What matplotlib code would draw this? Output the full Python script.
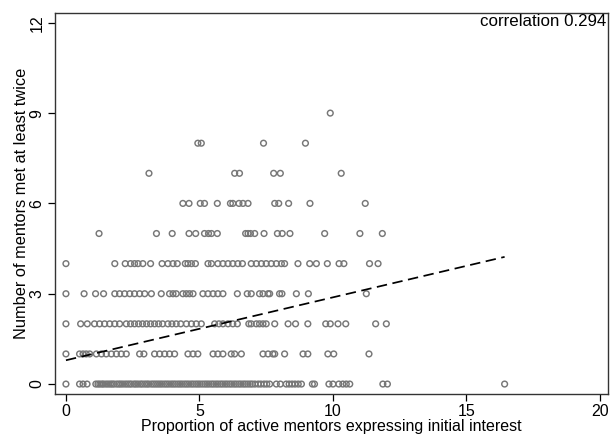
import matplotlib
matplotlib.use("Agg")
import matplotlib.pyplot as plt
import numpy as np

plt.rcParams['font.family'] = ['Liberation Sans', 'DejaVu Sans']

# x values (proportion of active mentors expressing initial interest) by y row
row0 = [0.0, 0.51, 0.64, 0.79, 1.12, 1.2, 1.27, 1.35, 1.41, 1.5, 1.58, 1.66, 1.73, 1.8, 1.9,
        1.98, 2.05, 2.13, 2.22, 2.3, 2.38, 2.45, 2.55, 2.62, 2.7, 2.79, 2.86, 2.95, 3.03, 3.1,
        3.2, 3.28, 3.36, 3.44, 3.52, 3.6, 3.69, 3.77, 3.85, 3.94, 4.02, 4.1, 4.19, 4.27, 4.35,
        4.44, 4.52, 4.6, 4.69, 4.77, 4.86, 4.94, 5.02, 5.11, 5.2, 5.28, 5.36, 5.45, 5.53, 5.62,
        5.7, 5.79, 5.87, 5.96, 6.04, 6.13, 6.21, 6.3, 6.38, 6.47, 6.55, 6.64, 6.72, 6.81, 6.9,
        6.98, 7.08, 7.2, 7.3, 7.42, 7.52, 7.63, 7.88, 8.03, 8.25, 8.36, 8.47, 8.58, 8.7, 8.82,
        9.23, 9.31, 9.85, 10.0, 10.22, 10.37, 10.5, 10.63, 11.87, 12.04, 16.43]
row1 = [0.0, 0.51, 0.64, 0.76, 0.89, 1.14, 1.33, 1.51, 1.7, 1.89, 2.07, 2.26, 2.76, 2.92,
        3.32, 3.51, 3.7, 3.88, 4.07, 4.57, 4.76, 4.94, 5.51, 5.69, 5.88, 6.19, 6.32, 6.57,
        7.38, 7.57, 7.75, 7.82, 8.19, 8.88, 9.06, 9.81, 10.03, 11.35]
row2 = [0.0, 0.55, 0.8, 1.07, 1.26, 1.45, 1.64, 1.83, 2.01, 2.26, 2.42, 2.57, 2.72, 2.87,
        3.02, 3.17, 3.32, 3.47, 3.62, 3.82, 3.97, 4.13, 4.3, 4.51, 4.7, 4.88, 5.07, 5.57,
        5.73, 5.88, 6.07, 6.25, 6.42, 6.85, 6.94, 7.13, 7.25, 7.38, 7.5, 7.82, 8.32, 8.6,
        9.06, 9.73, 9.9, 10.19, 10.48, 11.6, 12.0]
row3 = [0.0, 0.68, 1.11, 1.41, 1.83, 2.01, 2.2, 2.39, 2.57, 2.76, 2.95, 3.2, 3.57, 3.88,
        4.01, 4.13, 4.38, 4.51, 4.63, 4.76, 5.13, 5.32, 5.51, 5.69, 5.88, 6.42, 6.79, 6.94,
        7.25, 7.38, 7.57, 7.63, 8.0, 8.09, 8.63, 9.08, 11.25]
row4 = [0.0, 1.83, 2.22, 2.42, 2.57, 2.7, 2.88, 3.17, 3.6, 3.82, 4.01, 4.17, 4.47, 4.57,
        4.7, 4.85, 5.32, 5.45, 5.69, 5.88, 6.07, 6.25, 6.44, 6.61, 6.94, 7.13, 7.32, 7.5,
        7.69, 7.88, 8.07, 8.19, 8.69, 9.13, 9.38, 9.79, 10.23, 10.41, 11.37, 11.69]
row5 = [1.24, 3.39, 3.98, 4.61, 4.86, 5.19, 5.34, 5.45, 5.67, 6.73, 6.82, 6.91, 7.07, 7.42,
        7.92, 8.1, 8.39, 9.69, 11.01, 11.85]
row6 = [4.38, 4.61, 5.03, 5.19, 5.67, 6.16, 6.25, 6.48, 6.63, 6.82, 7.82, 7.97, 8.34, 9.14, 11.21]
row7 = [3.11, 6.32, 6.5, 7.78, 8.03, 10.31]
row8 = [4.94, 5.07, 7.4, 8.97]
row9 = [9.9]
rows = [row0, row1, row2, row3, row4, row5, row6, row7, row8, row9]

fit_intercept = 0.79
fit_slope = 0.209
corr_label = "correlation 0.294"

x_ticks = [0, 5, 10, 15, 20]
y_ticks = [0, 3, 6, 9, 12]

xs = np.concatenate([np.asarray(r, float) for r in rows])
ys = np.concatenate([np.full(len(r), i, float) for i, r in enumerate(rows)])

fig = plt.figure(figsize=(6.11, 4.38), dpi=100)
ax = fig.add_axes([0.090, 0.1005, 0.905, 0.8695])

ax.scatter(xs, ys, s=17, facecolors='none', edgecolors='#777777', linewidths=1.05, zorder=2)

xl = np.array([xs.min(), xs.max()])
ax.plot(xl, fit_intercept + fit_slope * xl, color='black', linestyle=(0, (6, 3.2)),
        linewidth=1.25, zorder=3)

ax.set_xlim(-0.41, 20.3)
ax.set_ylim(-0.33, 12.32)
ax.set_xticks(x_ticks)
ax.set_yticks(y_ticks)
ax.set_yticklabels([str(v) for v in y_ticks], rotation=90, va='center')
ax.tick_params(axis='both', direction='out', length=5, width=0.9, labelsize=11.5,
               colors='black', pad=2.5)
for sp in ax.spines.values():
    sp.set_linewidth(1.0)
    sp.set_color('#333333')

ax.set_xlabel("Proportion of active mentors expressing initial interest", fontsize=11.5, labelpad=0)
ax.set_ylabel("Number of mentors met at least twice", fontsize=11.8, labelpad=0.5)
ax.text(0.997, 0.997, corr_label, transform=ax.transAxes, ha='right', va='top', fontsize=12.2)

fig.savefig("out.png", dpi=100)
